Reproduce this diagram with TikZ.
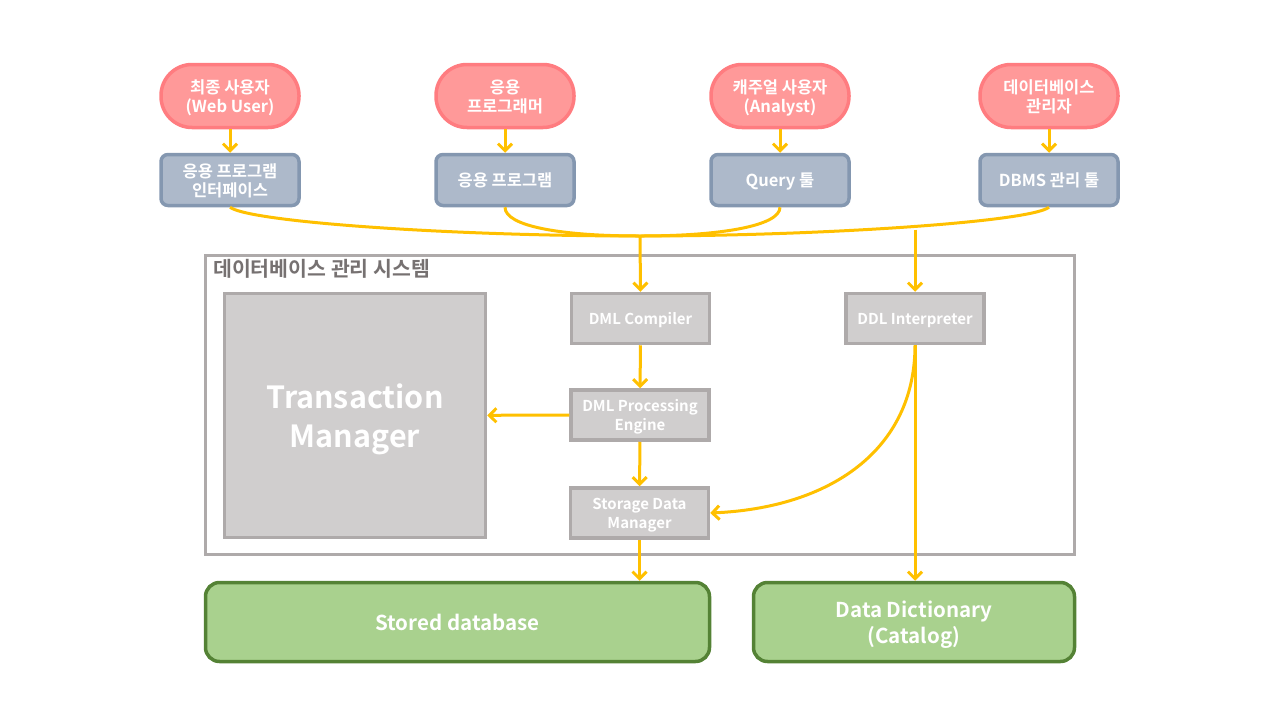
\documentclass[tikz,border=0pt]{standalone}
\usepackage{fontspec}
\setmainfont{Noto Sans CJK KR}[BoldFont={* Bold}]
\usetikzlibrary{arrows.meta}
\definecolor{pinkfill}{HTML}{FF9999}
\definecolor{pinkline}{HTML}{FF7C80}
\definecolor{bluefill}{HTML}{ADB9CA}
\definecolor{blueline}{HTML}{8497B0}
\definecolor{grayfill}{HTML}{D0CECE}
\definecolor{grayline}{HTML}{AEAAAA}
\definecolor{greenfill}{HTML}{A9D18E}
\definecolor{greenline}{HTML}{548235}
\definecolor{arrowc}{HTML}{FFC000}
\definecolor{titlec}{HTML}{767171}
\begin{document}
\begin{tikzpicture}[x=1pt,y=-1pt,
  every node/.append style={text depth=0pt},
  user/.style={draw=pinkline,fill=pinkfill,line width=3.5pt,rounded corners=31pt,
    minimum width=138pt,minimum height=63pt,inner sep=0pt,align=center,
    text=white,font=\fontsize{16.5}{19}\selectfont\bfseries},
  tool/.style={draw=blueline,fill=bluefill,line width=3.5pt,rounded corners=7pt,
    minimum width=138pt,minimum height=51pt,inner sep=0pt,align=center,
    text=white,font=\fontsize{16.5}{19}\selectfont\bfseries},
  comp/.style={draw=grayline,fill=grayfill,line width=3.5pt,
    minimum width=138pt,minimum height=50pt,inner sep=0pt,align=center,
    text=white,font=\fontsize{15}{19}\selectfont\bfseries},
  store/.style={draw=greenline,fill=greenfill,line width=3.5pt,rounded corners=14pt,
    minimum height=79pt,inner sep=0pt,align=center,
    text=white,font=\fontsize{20.5}{26}\selectfont\bfseries},
  conn/.style={draw=arrowc,line width=3pt},
  arr/.style={conn,-{Straight Barb[length=7pt,width=14pt,line width=3pt]}},
]
\useasboundingbox (0,0) rectangle (1280,720);
% users
\node[user] (u1) at (230,96) {최종 사용자\\(Web User)};
\node[user] (u2) at (505,96) {응용\\프로그래머};
\node[user] (u3) at (780,96) {캐주얼 사용자\\(Analyst)};
\node[user] (u4) at (1049,96) {데이터베이스\\관리자};
% tools
\node[tool] (t1) at (230,180) {응용 프로그램\\인터페이스};
\node[tool] (t2) at (505,180) {응용 프로그램};
\node[tool] (t3) at (780,180) {Query 툴};
\node[tool] (t4) at (1049,180) {DBMS 관리 툴};
% DBMS frame
\node[draw=grayline,line width=3.5pt,minimum width=869pt,minimum height=299pt,inner sep=0pt] (sys) at (640,405) {};
\node[anchor=north west,inner sep=0pt,text=titlec,font=\fontsize{20.5}{22}\selectfont\bfseries] (title) at (213,259) {데이터베이스 관리 시스템};
% components
\node[comp,minimum width=261pt,minimum height=244pt,font=\fontsize{30.5}{39}\selectfont\bfseries] (tm) at (355,415.5) {Transaction\\Manager};
\node[comp] (dmlc) at (640.5,318.5) {DML Compiler};
\node[comp] (ddl) at (915,318.5) {DDL Interpreter};
\node[comp] (dmlp) at (640,415) {DML Processing\\Engine};
\node[comp] (sdm) at (639.5,513) {Storage Data\\Manager};
% storage
\node[store,minimum width=504pt] (sdb) at (457.5,622) {Stored database};
\node[store,minimum width=321pt] (dd) at (914,622) {Data Dictionary\\(Catalog)};
% arrows users -> tools
\foreach \i in {1,2,3,4} \draw[arr] (u\i) -- (t\i);
% merge
\coordinate (m) at (640,236);
\coordinate (mr) at (915,229.5);
\draw[conn] (t1.south) .. controls (250,222) and (450,236) .. (m);
\draw[conn] (t2.south) .. controls (505,226) and (560,236) .. (m);
\draw[conn] (t3.south) .. controls (780,226) and (720,236) .. (m);
\draw[conn] (t4.south) .. controls (1030,222) and (820,236) .. (m);
\draw[arr] (m) -- (dmlc.north);
\draw[arr] (mr) -- (ddl.north);
% inner arrows
\draw[arr] (dmlc) -- (dmlp);
\draw[arr] (dmlp) -- (tm);
\draw[arr] (dmlp) -- (sdm);
\draw[arr] (ddl.south) .. controls (915,450) and (830,508) .. (sdm.east);
\draw[arr] (ddl.south) -- (ddl.south |- dd.north);
\draw[arr] (sdm.south) -- (sdm.south |- sdb.north);
\end{tikzpicture}
\end{document}
